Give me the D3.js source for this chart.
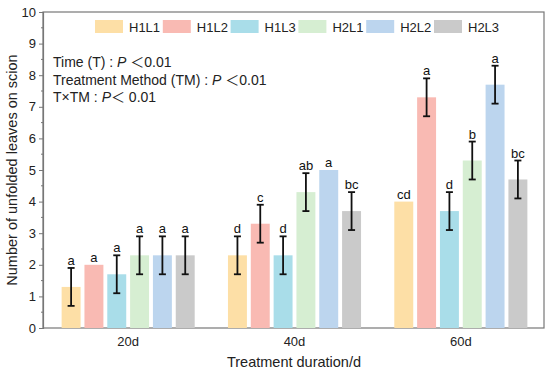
<!DOCTYPE html>
<html>
<head>
<meta charset="utf-8">
<script src="https://cdn.jsdelivr.net/npm/d3@7"></script>
<style>
  body { margin: 0; background: #fff; }
  svg { font-family: "Liberation Sans", Arial, sans-serif; }
</style>
</head>
<body>
<svg id="chart" width="550" height="373"></svg>
<script>
// data
var groups = ["20d", "40d", "60d"];
var seriesNames = ["H1L1", "H1L2", "H1L3", "H2L1", "H2L2", "H2L3"];
var colors = ["#fddfa6", "#f9bab3", "#a9dde9", "#d6eed2", "#bcd5ee", "#cacaca"];
// means per group, one entry per series
var means = [
  [1.3, 2.0, 1.7, 2.3, 2.3, 2.3],
  [2.3, 3.3, 2.3, 4.3, 5.0, 3.7],
  [4.0, 7.3, 3.7, 5.3, 7.7, 4.7]
];
var errs = [
  [0.6, 0, 0.6, 0.6, 0.6, 0.6],
  [0.6, 0.6, 0.6, 0.6, 0, 0.6],
  [0, 0.6, 0.6, 0.6, 0.6, 0.6]
];
var letters = [
  ["a", "a", "a", "a", "a", "a"],
  ["d", "c", "d", "ab", "a", "bc"],
  ["cd", "a", "d", "b", "a", "bc"]
];
var yTicks = [0, 1, 2, 3, 4, 5, 6, 7, 8, 9, 10];
var statLines = [
  ["Time (T) : ", "P", " \uff1c0.01"],
  ["Treatment Method (TM) : ", "P", " \uff1c0.01"],
  ["T\u00d7TM : ", "P", "\uff1c 0.01"]
];

var svg = d3.select("#chart");
var plotL = 43, plotR = 544, plotT = 12, plotB = 328;

var x0 = d3.scaleBand().domain(groups).range([plotL + 2, plotR]).paddingInner(0.2).paddingOuter(0.1);
var x1 = d3.scaleBand().domain(seriesNames).range([0, x0.bandwidth()]).paddingInner(0.17).paddingOuter(0);
var y = d3.scaleLinear().domain([0, 10]).range([plotB, plotT]);

// frame
svg.append("rect")
  .attr("x", plotL).attr("y", plotT)
  .attr("width", plotR - plotL).attr("height", plotB - plotT)
  .attr("fill", "none").attr("stroke", "#777").attr("stroke-width", 1.2);

// bars
var g = svg.selectAll(".grp").data(groups).enter().append("g")
  .attr("transform", function(d) { return "translate(" + x0(d) + ",0)"; });

g.each(function(gname, gi) {
  var sel = d3.select(this);
  seriesNames.forEach(function(s, si) {
    var v = means[gi][si], e = errs[gi][si];
    var bx = x1(s), bw = x1.bandwidth(), cx = bx + bw / 2;
    sel.append("rect")
      .attr("x", bx).attr("y", y(v))
      .attr("width", bw).attr("height", y(0) - y(v))
      .attr("fill", colors[si]);
    var topY = y(v);
    if (e > 0) {
      topY = y(v + e);
      sel.append("line").attr("x1", cx).attr("x2", cx)
        .attr("y1", y(v - e)).attr("y2", y(v + e))
        .attr("stroke", "#111").attr("stroke-width", 1.8);
      [v - e, v + e].forEach(function(t) {
        sel.append("line").attr("x1", cx - 3.5).attr("x2", cx + 3.5)
          .attr("y1", y(t)).attr("y2", y(t))
          .attr("stroke", "#111").attr("stroke-width", 1.8);
      });
    }
    sel.append("text")
      .attr("x", cx).attr("y", topY - 3)
      .attr("text-anchor", "middle")
      .attr("font-size", 13).attr("fill", "#111")
      .text(letters[gi][si]);
  });
});

// y axis with minor ticks
var yAxis = svg.append("g").attr("transform", "translate(" + plotL + ",0)")
  .call(d3.axisLeft(y).tickValues(yTicks).tickSize(4).tickPadding(3).tickFormat(d3.format("d")));
yAxis.select(".domain").attr("stroke", "#777").attr("stroke-width", 1.2);
yAxis.selectAll(".tick line").attr("stroke", "#777");
yAxis.selectAll("text").attr("font-size", 13).attr("fill", "#222")
  .attr("font-family", "Liberation Sans, Arial, sans-serif");
var minor = d3.range(0.5, 10, 1);
svg.append("g").selectAll("line").data(minor).enter().append("line")
  .attr("x1", plotL - 2).attr("x2", plotL)
  .attr("y1", function(d) { return y(d); }).attr("y2", function(d) { return y(d); })
  .attr("stroke", "#777");

// x axis labels (no ticks)
svg.append("g").selectAll("text").data(groups).enter().append("text")
  .attr("x", function(d) { return x0(d) + x0.bandwidth() / 2; })
  .attr("y", 346)
  .attr("text-anchor", "middle").attr("font-size", 13).attr("fill", "#222")
  .text(function(d) { return d; });

// axis titles
svg.append("text")
  .attr("x", 294).attr("y", 367)
  .attr("text-anchor", "middle").attr("font-size", 14.5).attr("fill", "#222")
  .text("Treatment duration/d");
svg.append("text")
  .attr("transform", "translate(17," + (plotT + plotB) / 2 + ") rotate(-90)")
  .attr("text-anchor", "middle").attr("font-size", 14.5).attr("fill", "#222")
  .text("Number of unfolded leaves on scion");

// legend
var leg = svg.append("g");
seriesNames.forEach(function(s, i) {
  var lx = 95 + i * 67.8;
  leg.append("rect").attr("x", lx).attr("y", 20).attr("width", 28).attr("height", 13).attr("fill", colors[i]);
  leg.append("text").attr("x", lx + 34).attr("y", 31.5).attr("font-size", 13).attr("fill", "#222").text(s);
});

// stats annotation
statLines.forEach(function(parts, i) {
  var t = svg.append("text").attr("x", 53).attr("y", 67 + i * 17.5)
    .attr("font-size", 14).attr("fill", "#222");
  t.append("tspan").text(parts[0]);
  t.append("tspan").attr("font-style", "italic").text(parts[1]);
  t.append("tspan").attr("font-family", "Liberation Sans, 'Noto Sans CJK SC', sans-serif").text(parts[2]);
});
</script>
</body>
</html>
